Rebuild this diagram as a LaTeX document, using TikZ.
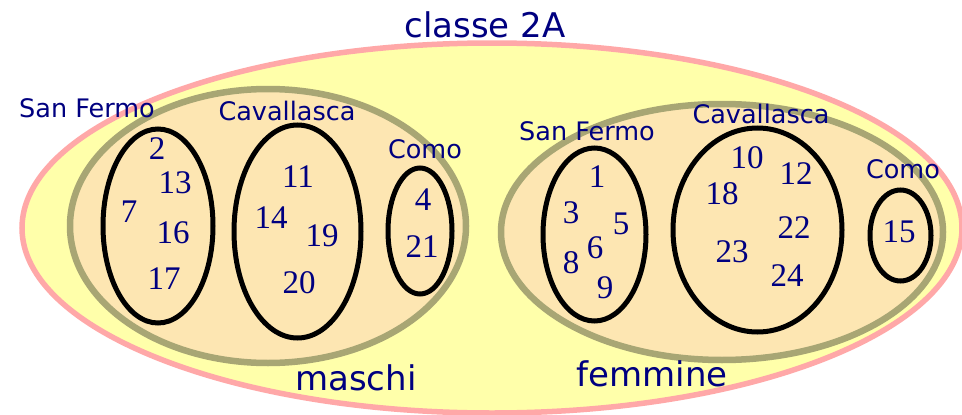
\documentclass[tikz,border=0pt]{standalone}
\usepackage{fontspec}
\setmainfont{Liberation Serif}
\newfontfamily\labfont{DejaVu Sans}
\begin{document}
\begin{tikzpicture}[x=1pt,y=-1pt,
  title/.style={font=\labfont\fontsize{34}{36}\selectfont, text=navytext, inner sep=0pt},
  place/.style={font=\labfont\fontsize{25.5}{28}\selectfont, text=navytext, inner sep=0pt},
  num/.style={font=\fontsize{33}{35}\selectfont, text=navytext, inner sep=0pt},
  classset/.style={draw=pinkline, fill=yellowfill, line width=5.5pt},
  sexset/.style={draw=oliveline, fill=beigefill, line width=6.5pt},
  townset/.style={draw=black, line width=5pt}]
\definecolor{navytext}{HTML}{000080}
\definecolor{pinkline}{HTML}{FFA8A8}
\definecolor{yellowfill}{HTML}{FFFFAA}
\definecolor{oliveline}{HTML}{A8A674}
\definecolor{beigefill}{HTML}{FDE6B2}
\useasboundingbox (0,0) rectangle (962,415);
\fill[white] (0,0) rectangle (962,415);
% class
\draw[classset] (492,228) ellipse [x radius=470, y radius=185];
% sexes
\draw[sexset] (268,226) ellipse [x radius=198, y radius=137];
\draw[sexset] (722,232) ellipse [x radius=221, y radius=128];
% towns
\draw[townset] (158,226) ellipse [x radius=55, y radius=97];
\draw[townset] (297.5,231.5) ellipse [x radius=63.5, y radius=106.5];
\draw[townset] (420,231) ellipse [x radius=32, y radius=63];
\draw[townset] (594.5,234.5) ellipse [x radius=51.5, y radius=86.5];
\draw[townset] (757.5,230) ellipse [x radius=84.5, y radius=102];
\draw[townset] (900.5,235.5) ellipse [x radius=30.5, y radius=45.5];
% titles
\node[title] (classe) at (485,25) {classe 2A};
\node[title] (maschi) at (356,378) {maschi};
\node[title] (femmine) at (652,374) {femmine};
\node[place] (sfm) at (87,108) {San Fermo};
\node[place] (cavm) at (287,111) {Cavallasca};
\node[place] (comom) at (425,149) {Como};
\node[place] (sff) at (587,131) {San Fermo};
\node[place] (cavf) at (761,114) {Cavallasca};
\node[place] (comof) at (903,169) {Como};
% numbers maschi
\node[num] (n2) at (157,149) {2};
\node[num] (n13) at (175,183) {13};
\node[num] (n7) at (129,212) {7};
\node[num] (n16) at (173,233) {16};
\node[num] (n17) at (164,279) {17};
\node[num] (n11) at (298,177) {11};
\node[num] (n14) at (271,218) {14};
\node[num] (n19) at (322,236) {19};
\node[num] (n20) at (299,283) {20};
\node[num] (n4) at (423,200) {4};
\node[num] (n21) at (422,247) {21};
% numbers femmine
\node[num] (n1) at (597,177) {1};
\node[num] (n3) at (571,213) {3};
\node[num] (n5) at (621,224) {5};
\node[num] (n6) at (595,248) {6};
\node[num] (n8) at (571,263) {8};
\node[num] (n9) at (605,288) {9};
\node[num] (n10) at (747,158) {10};
\node[num] (n12) at (796,174) {12};
\node[num] (n18) at (722,194) {18};
\node[num] (n22) at (794,228) {22};
\node[num] (n23) at (732,252) {23};
\node[num] (n24) at (787,276) {24};
\node[num] (n15) at (899,232) {15};
\end{tikzpicture}
\end{document}
